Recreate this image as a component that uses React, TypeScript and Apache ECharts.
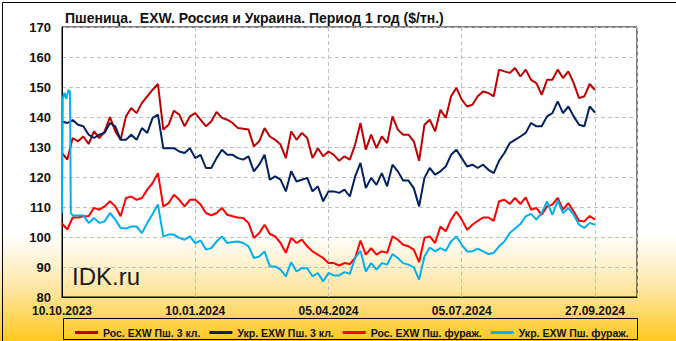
import React, { useEffect, useRef } from "react";
import * as echarts from "echarts";

const tickLabels = ["10.10.2023", "10.01.2024", "05.04.2024", "05.07.2024", "27.09.2024"];
const seriesNames = ["Рос. EXW Пш. 3 кл.", "Укр. EXW Пш. 3 кл.", "Рос. EXW Пш. фураж.", "Укр. EXW Пш. фураж."];
const seriesColors = ["#c00000", "#002060", "#ff0000", "#00b0f0"];

// index 0..100 (trading-day steps), step 25 between date labels
const rus3 = [
  128, 125.8, 133, 131.9, 133.5, 131, 135.2, 133, 135.2, 140,
  135.2, 132.4, 140.2, 143, 141.3, 144.7, 146.9, 149.1, 151, 135.8,
  137.4, 142.1, 140.8, 136.9, 140.2, 141.3, 139.1, 136.9, 138.5, 141.7,
  139.7, 139.1, 138, 136.3, 136.1, 135.8, 130.2, 131.9, 136.3, 133.5,
  132.4, 130.8, 126.3, 135.2, 132.4, 134.7, 133, 126.3, 129.6, 126.9,
  128.5, 127.4, 125.4, 126.9, 125.8, 130.8, 138, 129.1, 134.1, 129.6,
  133.5, 131.3, 140.2, 135.8, 134.1, 134.1, 131.9, 125.4, 137.4, 139.1,
  135.2, 142.4, 139.7, 146.9, 149.7, 145.8, 143.5, 144.1, 146.9, 148.5,
  148, 146.9, 155.8, 155.2, 154.7, 156.3, 153.5, 155.8, 152.4, 151.3,
  147.4, 152.4, 152.4, 155.8, 153, 155.2, 151.3, 146.3, 146.9, 151,
  149,
];
const ukr3 = [
  138.5, 138, 139, 137.4, 136.9, 134.1, 133, 134.1, 134.7, 138,
  136.9, 132.4, 132.4, 134.1, 132.4, 136.3, 134.7, 139.7, 140.8, 129.6,
  129.6, 129.6, 128.5, 128, 129.6, 126.3, 127.4, 123, 123, 126.3,
  129.1, 127.4, 127.4, 126.3, 125.8, 126.9, 121.9, 124.1, 127.4, 119.1,
  120.2, 119.1, 115.2, 121.9, 118.5, 119.1, 119.7, 115.2, 116.9, 111.9,
  115.2, 115.2, 114.7, 115.8, 113.5, 120.2, 124.7, 116.3, 119.7, 117.4,
  121.3, 116.9, 124.1, 121.9, 118.8, 118.8, 116.3, 110.2, 119.7, 123,
  120.8, 121.9, 123.5, 127.4, 129.1, 126.3, 123.5, 124.1, 123, 124.1,
  122.4, 121.3, 125.4, 128, 131.3, 132.4, 133.5, 134.7, 138, 136.9,
  136.9, 140.2, 141.3, 145.2, 141.3, 143.5, 140.2, 137.4, 136.9, 143.5,
  141.5,
];
const rusFeed = [
  104.5, 102.5, 106.5, 106.5, 106.9, 106.9, 109.7, 109.1, 110.2, 111.9,
  110.2, 106.9, 113, 113.5, 112.4, 113, 115.8, 118, 121.3, 110.2,
  111.3, 114.1, 112.4, 110.2, 112.4, 112.4, 110.8, 108, 107.2, 108,
  109.7, 107.4, 106.9, 106.5, 106.3, 104.7, 99.7, 101.3, 104.1, 101,
  100.2, 98, 94.7, 99.7, 98, 99.1, 96.9, 95.2, 94.1, 93,
  91.3, 91.3, 90.5, 91.3, 91, 93, 98.8, 94.1, 96.3, 94.1,
  95.2, 94.7, 100.2, 99.1, 97.4, 96.9, 95.8, 91.6, 99.7, 100.2,
  98, 103.5, 101.9, 105.8, 108.5, 105.8, 102.4, 104.1, 105.4, 106.5,
  106.5, 105.4, 111.9, 112.4, 111, 113, 111, 113.2, 109.1, 109.7,
  107.4, 110.2, 110.8, 113, 109.1, 111.3, 108.5, 105.4, 105.2, 107,
  105.8,
];
// Укр. фураж: opening spike (fractional steps), then regular values from index 2
const ukrFeedSpikeX = [0, 0.15, 0.5, 0.8, 1.2, 1.5, 1.65];
const ukrFeedSpikeY = [108, 146.5, 148, 146, 149, 148.5, 108];
const ukrFeedFrom = 2;
const ukrFeed = [
  107.2, 107.2, 107.2, 104.7, 106.3, 104.7, 105.2, 108,
  105.8, 103, 102.8, 103.5, 103.5, 101.3, 104.7, 107.7, 110.8, 100.2,
  100.8, 100.8, 99.7, 99.1, 100.2, 98, 98.8, 95.8, 96.3, 98.5,
  100.2, 98, 98.3, 98.5, 98, 96.9, 93, 93.5, 95.2, 90.2,
  90.2, 89.1, 86.9, 91.6, 88.5, 89.6, 89.6, 86.9, 88, 85.2,
  88, 87.2, 87.2, 88.3, 87.7, 93, 95.4, 88.5, 91.3, 89.1,
  91.3, 90.8, 94.3, 93, 91.3, 90.8, 89.9, 85.8, 93.5, 96.5,
  95.2, 96.3, 95.4, 98.5, 100.2, 97.4, 95.2, 95.2, 96.1, 95.2,
  94.3, 94.7, 96.9, 98.5, 101.3, 102.8, 104.3, 106.9, 107.7, 105.8,
  108, 111.9, 107.4, 112.1, 108, 109.7, 107.4, 104.1, 103, 104.7,
  104.1,
];

const LABEL_STEP = 25;
const X_MAX = 107.88;
const FONT = "'Liberation Sans', Arial, sans-serif";

export default function App() {
  const ref = useRef<HTMLDivElement>(null);
  useEffect(() => {
    if (!ref.current) return;
    const chart = echarts.init(ref.current, null, { renderer: "svg" });
    const toPairs = (arr: number[], from = 0) => arr.map((v, i) => [i + from, v]);
    const ukrFeedData = ukrFeedSpikeX.map((x, i) => [x, ukrFeedSpikeY[i]]).concat(toPairs(ukrFeed, ukrFeedFrom));
    const datas = [toPairs(rus3), toPairs(ukr3), toPairs(rusFeed), ukrFeedData];
    chart.setOption({
      animation: false,
      backgroundColor: {
        type: "linear", x: 0, y: 0, x2: 0, y2: 1,
        colorStops: [
          { offset: 0, color: "#ffffff" },
          { offset: 0.69, color: "#ffffff" },
          { offset: 0.85, color: "#fee5a0" },
          { offset: 1, color: "#ffc81e" },
        ],
      },
      title: {
        text: "Пшеница.  EXW. Россия и Украина. Период 1 год ($/тн.)",
        left: 60, top: 6,
        textStyle: { fontFamily: FONT, fontSize: 14, fontWeight: "bold", color: "#111" },
      },
      grid: { left: 62, right: 39, top: 27, bottom: 44, show: true, borderColor: "#000", borderWidth: 1, backgroundColor: "transparent" },
      xAxis: {
        type: "value", min: 0, max: X_MAX, interval: LABEL_STEP,
        axisLine: { show: true, lineStyle: { color: "#000" } },
        axisTick: { show: false },
        splitLine: { show: true, lineStyle: { color: "#c0c0c0", type: [4, 3] } },
        axisLabel: {
          showMaxLabel: false, margin: 8,
          fontFamily: FONT, fontSize: 12, fontWeight: "bold", color: "#111",
          formatter: (v: number) => {
            const k = Math.round(v / LABEL_STEP);
            return Math.abs(v - k * LABEL_STEP) < 1e-6 && k < tickLabels.length ? tickLabels[k] : "";
          },
        },
      },
      yAxis: {
        type: "value", min: 80, max: 170, interval: 10,
        axisLine: { show: true, lineStyle: { color: "#000" } },
        axisTick: { show: false },
        splitLine: { show: true, lineStyle: { color: "#c0c0c0", type: [4, 3] } },
        axisLabel: { margin: 11, fontFamily: FONT, fontSize: 13, fontWeight: "bold", color: "#111" },
      },
      legend: {
        left: 70, top: 322, icon: "rect", itemWidth: 23, itemHeight: 3, itemGap: 9,
        textStyle: { fontFamily: FONT, fontSize: 10.5, fontWeight: "bold", color: "#111" },
        data: seriesNames,
      },
      graphic: [
        { type: "rect", left: 0, top: 0, shape: { x: 0.5, y: 0.5, width: 675, height: 340 }, style: { fill: "none", stroke: "#000", lineWidth: 1 }, silent: true, z: 100 },
        { type: "rect", shape: { x: 63.5, y: 318.5, width: 574, height: 21 }, style: { fill: "none", stroke: "#000", lineWidth: 1 }, silent: true, z: 100 },
        { type: "text", x: 72, y: 264, style: { text: "IDK.ru", font: "24px 'Liberation Sans', Arial, sans-serif", fill: "#1a1a1a" }, silent: true, z: 5 },
      ],
      series: seriesNames.map((name, i) => ({
        name, type: "line", data: datas[i], showSymbol: false, symbol: "none",
        color: seriesColors[i],
        lineStyle: { width: 2, color: seriesColors[i] },
      })),
    });
    return () => chart.dispose();
  }, []);
  return <div ref={ref} style={{ position: "fixed", left: 0, top: 0, width: 676, height: 341 }} />;
}
